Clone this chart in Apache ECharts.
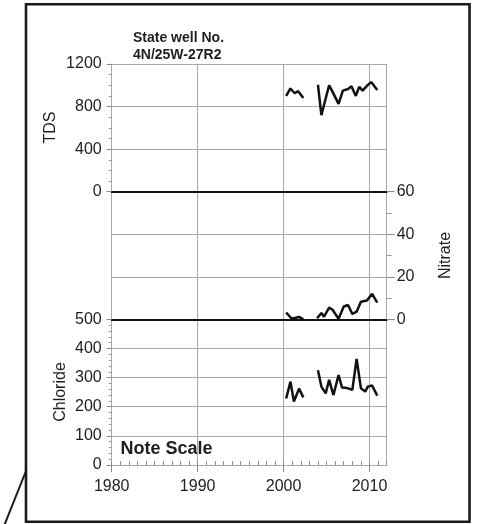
<!DOCTYPE html>
<html>
<head>
<meta charset="utf-8">
<title>State well No. 4N/25W-27R2</title>
<script src="https://cdn.jsdelivr.net/npm/echarts@6/dist/echarts.min.js"></script>
<style>
  html, body { margin: 0; padding: 0; background: #fff; }
  #chart { width: 483px; height: 524px; }
</style>
</head>
<body>
<div id="chart"></div>
<script>
// Sample dates (decimal years) and concentrations; null marks a gap in sampling.
const tdsYears = [2000.3, 2000.8, 2001.3, 2001.7, 2002.3, 2003.0, 2004.0, 2004.4, 2005.3, 2005.6, 2006.4, 2006.9, 2007.5, 2007.9, 2008.4, 2008.8, 2009.2, 2009.7, 2010.2, 2010.9];
const tdsValues = [900, 970, 925, 945, 880, null, 1005, 720, 1000, 955, 825, 950, 965, 990, 900, 985, 950, 995, 1030, 955];

const nitrateYears = [2000.3, 2000.9, 2001.3, 2001.8, 2002.3, 2003.0, 2003.9, 2004.4, 2004.7, 2005.3, 2005.7, 2006.4, 2007.0, 2007.5, 2008.0, 2008.5, 2009.0, 2009.7, 2010.3, 2010.9];
const nitrateValues = [3.2, 0.5, 0.6, 1.1, 0, null, 0.5, 3, 1.2, 5.5, 4.5, 0.2, 6, 6.7, 2.5, 3.6, 8.3, 8.8, 12, 7.8];

const chlorideYears = [2000.3, 2000.8, 2001.2, 2001.8, 2002.3, 2003.0, 2004.0, 2004.4, 2004.9, 2005.3, 2005.8, 2006.4, 2006.8, 2007.4, 2008.0, 2008.5, 2009.0, 2009.5, 2009.8, 2010.3, 2010.9];
const chlorideValues = [228, 286, 218, 262, 232, null, 325, 269, 246, 292, 240, 309, 266, 264, 258, 364, 263, 252, 269, 273, 238];

// Axis ranges and tick steps
const yearMin = 1980, yearMax = 2012, yearStep = 10;
const tdsMax = 1200, tdsStep = 400;
const nitrateMax = 60, nitrateStep = 20;
const chlorideMax = 500, chlorideStep = 100;

const FONT = '"Liberation Sans", Arial, Helvetica, sans-serif';
const GRID_GREY = '#a9a9a9';
const TEXT = '#1e1e1e';
const INK = '#111';

const pairs = (xs, ys) => xs.map((x, i) => [x, ys[i]]);
const plain = v => String(v);

const plotLeft = 111.7, plotWidth = 275;
const grids = [
  { left: plotLeft, top: 64, width: plotWidth, height: 127.7 },
  { left: plotLeft, top: 191.7, width: plotWidth, height: 127.6 },
  { left: plotLeft, top: 319.3, width: plotWidth, height: 145.7 }
];

function yearAxis(gridIndex, opts) {
  return Object.assign({
    type: 'value', gridIndex, position: 'bottom', min: yearMin, max: yearMax, interval: yearStep,
    axisLine: { show: true, lineStyle: { color: INK, width: 2 } },
    axisTick: { show: false },
    axisLabel: { show: false },
    splitLine: { show: true, lineStyle: { color: GRID_GREY, width: 1 } }
  }, opts || {});
}

function valueAxis(gridIndex, position, max, step, minorSplit, tickLen, minorLen) {
  return {
    type: 'value', gridIndex, position, min: 0, max, interval: step,
    axisLine: { show: true, lineStyle: { color: GRID_GREY, width: 1 } },
    axisTick: { show: true, length: tickLen, lineStyle: { color: '#8a8a8a' } },
    minorTick: { show: true, splitNumber: minorSplit, length: minorLen, lineStyle: { color: '#9a9a9a' } },
    axisLabel: { fontFamily: FONT, fontSize: 16, color: TEXT, margin: 10, formatter: plain },
    splitLine: { show: true, lineStyle: { color: GRID_GREY, width: 1 } }
  };
}

// Rotated axis title, reading bottom to top
function axisTitle(text, x, y) {
  return {
    type: 'text', x, y, rotation: Math.PI / 2, silent: true,
    style: { text, font: '16px ' + FONT, fill: TEXT, align: 'center', verticalAlign: 'middle' }
  };
}

const lineStyle = { color: INK, width: 2.5 };

const option = {
  animation: false,
  backgroundColor: '#fff',
  grid: grids,
  xAxis: [
    yearAxis(0),
    yearAxis(1),
    yearAxis(2, {
      axisLine: { show: true, lineStyle: { color: GRID_GREY, width: 1 } },
      axisTick: { show: true, length: 7, lineStyle: { color: '#8a8a8a' } },
      axisLabel: { show: true, fontFamily: FONT, fontSize: 16, color: TEXT, margin: 14, showMaxLabel: false, formatter: plain }
    }),
    // yearly ticks along the bottom, pointing into the plot
    {
      type: 'value', gridIndex: 2, position: 'bottom', min: yearMin, max: yearMax, interval: 1,
      axisLine: { show: false },
      axisTick: { show: true, inside: true, length: 4, lineStyle: { color: '#8a8a8a' } },
      axisLabel: { show: false },
      splitLine: { show: false }
    }
  ],
  yAxis: [
    valueAxis(0, 'left', tdsMax, tdsStep, 4, 5, 3),
    valueAxis(1, 'right', nitrateMax, nitrateStep, 2, 8, 5),
    valueAxis(2, 'left', chlorideMax, chlorideStep, 5, 5, 3)
  ],
  series: [
    { type: 'line', xAxisIndex: 0, yAxisIndex: 0, data: pairs(tdsYears, tdsValues), showSymbol: false, connectNulls: false, lineStyle, z: 5 },
    { type: 'line', xAxisIndex: 1, yAxisIndex: 1, data: pairs(nitrateYears, nitrateValues), showSymbol: false, connectNulls: false, lineStyle, z: 5 },
    { type: 'line', xAxisIndex: 2, yAxisIndex: 2, data: pairs(chlorideYears, chlorideValues), showSymbol: false, connectNulls: false, lineStyle, z: 5 }
  ],
  graphic: [
    { type: 'rect', shape: { x: 26, y: 4.3, width: 443.5, height: 517.5 }, style: { fill: 'none', stroke: '#1a1a1a', lineWidth: 2.6 }, silent: true },
    { type: 'line', shape: { x1: 26, y1: 471, x2: 4, y2: 526 }, style: { stroke: '#1a1a1a', lineWidth: 2 }, silent: true },
    axisTitle('TDS', 50.5, 127.5),
    axisTitle('Nitrate', 445.5, 255.5),
    axisTitle('Chloride', 61, 392),
    { type: 'text', left: 133, top: 31, style: { text: 'State well No.', font: 'bold 14px ' + FONT, fill: TEXT } },
    { type: 'text', left: 133, top: 48.5, style: { text: '4N/25W-27R2', font: 'bold 14px ' + FONT, fill: TEXT } },
    { type: 'text', left: 120.5, top: 440, style: { text: 'Note Scale', font: 'bold 18px ' + FONT, fill: TEXT } }
  ]
};

const chart = echarts.init(document.getElementById('chart'), null, { renderer: 'canvas' });
chart.setOption(option);
</script>
</body>
</html>
